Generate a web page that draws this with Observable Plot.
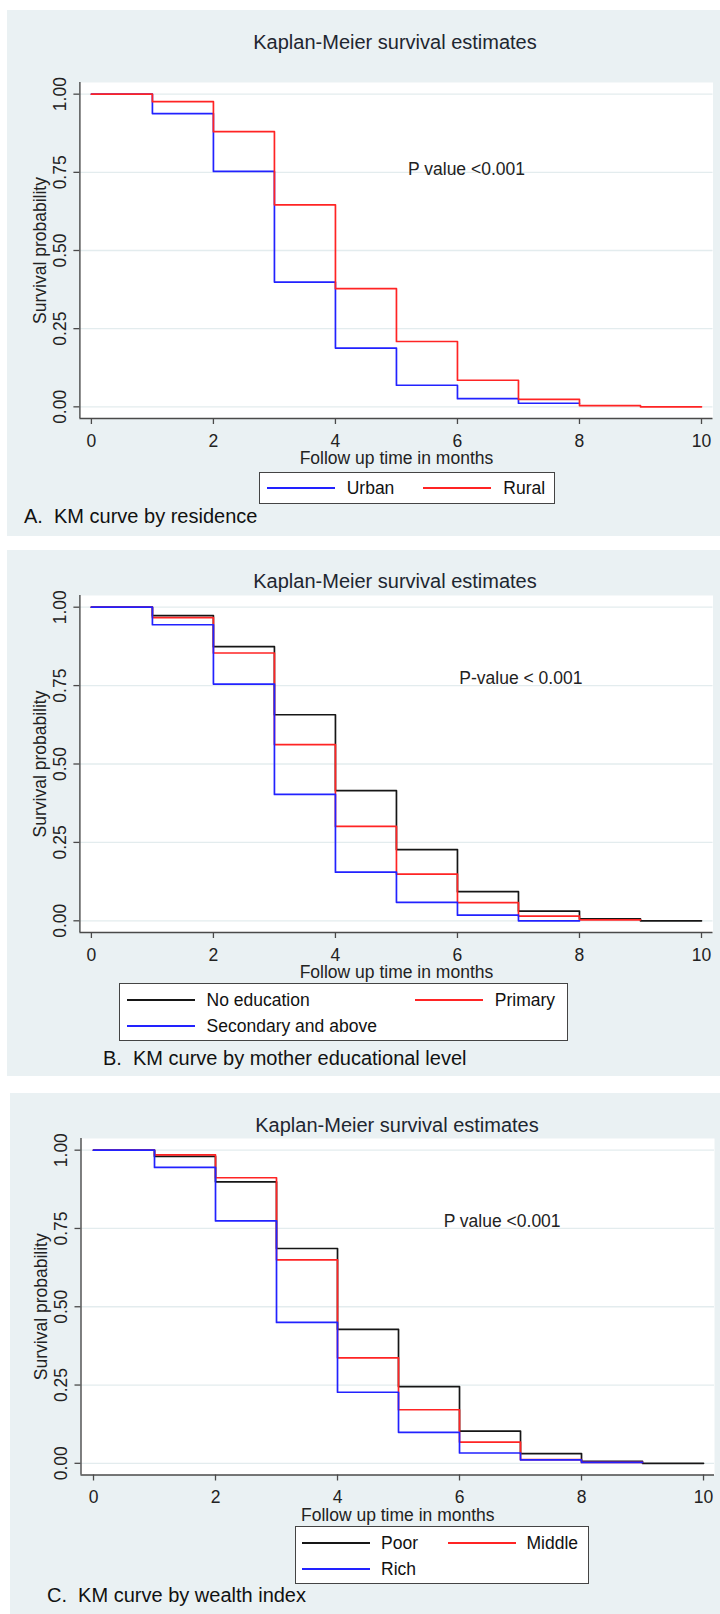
<!DOCTYPE html>
<html><head><meta charset="utf-8">
<script src="https://cdn.jsdelivr.net/npm/d3@7"></script>
<script src="https://cdn.jsdelivr.net/npm/@observablehq/plot@0.6"></script>
<style>
body{margin:0;background:#fff;font-family:"Liberation Sans",Arial,sans-serif;color:#222}
#page{position:relative;width:720px;height:1614px;overflow:hidden}
.abs{position:absolute;white-space:pre}
</style></head><body><div id="page"></div>
<script>
// ---------- data ----------
const months = [0,1,2,3,4,5,6,7,8,9,10];
const xTicks = [0,2,4,6,8,10];
const yTicks = [0,0.25,0.5,0.75,1];
const yTickLabels = ["0.00","0.25","0.50","0.75","1.00"];
const chartTitle = "Kaplan-Meier survival estimates";
const xTitle = "Follow up time in months";
const yTitle = "Survival probability";

// Panel A: residence
const residenceGroups = ["Urban","Rural"];
const urbanSurv = [1,0.938,0.753,0.399,0.188,0.069,0.026,0.0115];
const ruralSurv = [1,0.976,0.880,0.646,0.378,0.209,0.085,0.024,0.004,0];
const residenceEnd = [8,10];
const residencePText = "P value <0.001";
const residenceCaption = "A.  KM curve by residence";

// Panel B: mother education
const educationGroups = ["No education","Primary","Secondary and above"];
const noEduSurv = [1,0.973,0.874,0.657,0.415,0.227,0.093,0.031,0.006,0];
const primarySurv = [1,0.967,0.854,0.562,0.301,0.149,0.058,0.015,0.003];
const secondarySurv = [1,0.944,0.755,0.403,0.155,0.059,0.018,0];
const educationEnd = [10,9,8];
const educationPText = "P-value < 0.001";
const educationCaption = "B.  KM curve by mother educational level";

// Panel C: wealth index
const wealthGroups = ["Poor","Middle","Rich"];
const poorSurv = [1,0.980,0.899,0.686,0.428,0.245,0.103,0.031,0.006,0];
const middleSurv = [1,0.985,0.912,0.650,0.337,0.171,0.068,0.012,0.003];
const richSurv = [1,0.945,0.774,0.450,0.227,0.099,0.033,0.011,0.003];
const wealthEnd = [10,9,9];
const wealthPText = "P value <0.001";
const wealthCaption = "C.  KM curve by wealth index";

// ---------- styling ----------
const BLUE = "#2222ff", RED = "#ff2424", BLACK = "#161616";
const PANEL_BG = "#eaf1f3", GRID = "#e3ecee", AXIS = "#4a4a4a";
const yDomain = [-0.0373, 1.0373];
const page = document.getElementById("page");

function el(style, text) {
  const d = document.createElement("div");
  d.className = "abs";
  Object.assign(d.style, style);
  if (text != null) d.textContent = text;
  page.appendChild(d);
  return d;
}

function steps(values, end) {
  const rows = values.map((s, i) => ({t: months[i], s}));
  rows.push({t: end, s: values[values.length - 1]});
  return rows;
}

function drawPanel(cfg) {
  el({left: cfg.bgLeft + "px", top: cfg.top + "px", width: (720 - cfg.bgLeft) + "px", height: cfg.height + "px", background: PANEL_BG});
  const plot = Plot.plot({
    width: 720, height: cfg.height,
    marginTop: cfg.mTop, marginBottom: cfg.mBottom, marginLeft: cfg.mLeft, marginRight: cfg.mRight,
    x: {domain: cfg.xDomain, label: null},
    y: {domain: yDomain, label: null},
    style: {fontFamily: '"Liberation Sans", Arial, sans-serif', fontSize: "17.5px", background: "transparent", color: "#222", overflow: "visible"},
    marks: [
      Plot.frame({fill: "white", stroke: "none"}),
      Plot.gridY(yTicks, {stroke: GRID, strokeOpacity: 1, strokeWidth: 1.3}),
      ...cfg.series.map(s => Plot.line(steps(s.values, s.end), {x: "t", y: "s", curve: "step-after", stroke: s.color, strokeWidth: 1.7})),
      Plot.ruleX([cfg.xDomain[0]], {stroke: AXIS, strokeWidth: 1.4}),
      Plot.ruleY([yDomain[0]], {stroke: AXIS, strokeWidth: 1.4}),
      Plot.axisX(xTicks, {tickSize: 6, tickPadding: 10, stroke: AXIS, strokeWidth: 1.3, label: null, tickFormat: d => String(d)}),
      Plot.axisY(yTicks, {tickSize: 6, tickPadding: 14, tickRotate: -90, textAnchor: "middle", lineAnchor: "middle", stroke: AXIS, strokeWidth: 1.3, label: null, tickFormat: d => yTickLabels[yTicks.indexOf(d)]}),
      Plot.text([cfg.pText], {x: cfg.pX, y: cfg.pY, textAnchor: "start", lineAnchor: "middle", fontSize: 17.5}),
      Plot.text([yTitle], {frameAnchor: "left", rotate: -90, dx: cfg.yTitleDx, textAnchor: "middle", lineAnchor: "middle", fontSize: 17.5}),
      Plot.text([xTitle], {frameAnchor: "bottom", dy: 40, textAnchor: "middle", lineAnchor: "middle", fontSize: 17.5})
    ]
  });
  plot.style.position = "absolute";
  plot.style.left = "0px";
  plot.style.top = cfg.top + "px";
  page.appendChild(plot);

  // title
  el({left: (cfg.titleX - 300) + "px", width: "600px", textAlign: "center", top: (cfg.titleY - 11.8) + "px", fontSize: "20px", lineHeight: "24px", color: "#1e2630"}, chartTitle);
  // caption
  el({left: cfg.capX + "px", top: (cfg.capY - 11.8) + "px", fontSize: "20px", lineHeight: "24px", color: "#111"}, cfg.caption);
  // legend
  const L = cfg.legend;
  el({left: L.x + "px", top: L.y + "px", width: L.w + "px", height: L.h + "px", background: "#fff", border: "1.5px solid #444", boxSizing: "border-box"});
  L.items.forEach(it => {
    el({left: it.lx + "px", top: (it.y - 1) + "px", width: (it.lw) + "px", height: "2px", background: it.color});
    el({left: it.tx + "px", top: (it.y - 10) + "px", fontSize: "17.5px", lineHeight: "20px", color: "#111"}, it.label);
  });
}

// ---------- panels ----------
drawPanel({
  top: 10, height: 526, bgLeft: 7, mTop: 72, mBottom: 118, mLeft: 79.4, mRight: 7.5,
  xDomain: [-0.1885, 10.1885], yTitleDx: -40,
  series: [
    {values: urbanSurv, end: residenceEnd[0], color: BLUE},
    {values: ruralSurv, end: residenceEnd[1], color: RED}
  ],
  pText: residencePText, pX: 5.19, pY: 0.760,
  titleX: 395, titleY: 41.6, caption: residenceCaption, capX: 24, capY: 515.3,
  legend: {x: 259, y: 471.7, w: 296, h: 32.5, items: [
    {lx: 267, lw: 68, tx: 346.7, y: 487.7, color: BLUE, label: residenceGroups[0]},
    {lx: 423, lw: 68, tx: 503.3, y: 487.7, color: RED, label: residenceGroups[1]}
  ]}
});

drawPanel({
  top: 549.5, height: 526.5, bgLeft: 7, mTop: 45, mBottom: 144.5, mLeft: 79.4, mRight: 7.5,
  xDomain: [-0.1885, 10.1885], yTitleDx: -40,
  series: [
    {values: noEduSurv, end: educationEnd[0], color: BLACK},
    {values: primarySurv, end: educationEnd[1], color: RED},
    {values: secondarySurv, end: educationEnd[2], color: BLUE}
  ],
  pText: educationPText, pX: 6.03, pY: 0.772,
  titleX: 395, titleY: 581, caption: educationCaption, capX: 103, capY: 1057.7,
  legend: {x: 119, y: 982.7, w: 449, h: 58.5, items: [
    {lx: 127, lw: 68, tx: 206.6, y: 1000, color: BLACK, label: educationGroups[0]},
    {lx: 415.4, lw: 68, tx: 494.8, y: 1000, color: RED, label: educationGroups[1]},
    {lx: 127, lw: 68, tx: 206.6, y: 1026, color: BLUE, label: educationGroups[2]}
  ]}
});

drawPanel({
  top: 1093, height: 521, bgLeft: 10, mTop: 45, mBottom: 139.5, mLeft: 80.5, mRight: 6,
  xDomain: [-0.205, 10.18], yTitleDx: -39.2,
  series: [
    {values: poorSurv, end: wealthEnd[0], color: BLACK},
    {values: middleSurv, end: wealthEnd[1], color: RED},
    {values: richSurv, end: wealthEnd[2], color: BLUE}
  ],
  pText: wealthPText, pX: 5.74, pY: 0.773,
  titleX: 397, titleY: 1124.8, caption: wealthCaption, capX: 47, capY: 1595,
  legend: {x: 294.7, y: 1525.7, w: 294, h: 58.5, items: [
    {lx: 302, lw: 68, tx: 381, y: 1543, color: BLACK, label: wealthGroups[0]},
    {lx: 447.5, lw: 68, tx: 526.5, y: 1543, color: RED, label: wealthGroups[1]},
    {lx: 302, lw: 68, tx: 381, y: 1569, color: BLUE, label: wealthGroups[2]}
  ]}
});
</script></body></html>
